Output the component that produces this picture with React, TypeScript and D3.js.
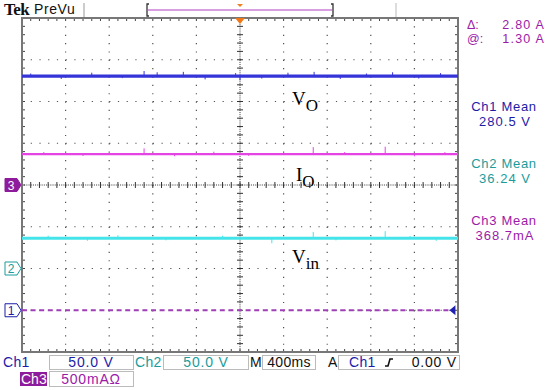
import React from "react";
import * as d3 from "d3";

// ---- data ----
const CHANNELS = ["Ch1", "Ch2", "Ch3"];
const CH_MEANS = [280.5, 36.24, 368.7];
const CH_SCALES = [50, 50, 500];
const CH_GROUND_DIV = [-3, -2, 0];
const CH_MEAN_LABELS = ["280.5 V", "36.24 V", "368.7mA"];
const CH_SCALE_LABELS = ["50.0 V", "50.0 V", "500mA"];
const TRACE_NAMES = ["V", "V", "I"];
const TRACE_SUBS = ["O", "in", "O"];
const CURSOR_DELTA = "2.80 A";
const CURSOR_AT = "1.30 A";
const TIMEBASE = "400ms";
const TRIG_LEVEL = "0.00 V";
const TRIG_LEVEL_DIV = -3;
// spikes: [time in divisions, deviation in divisions]
const VO_SPIKES: [number, number][] = [
  [0.2, 0.06], [0.9, -0.07], [1.6, 0.08], [2.3, -0.05], [3.1, 0.09], [3.7, 0.1],
  [4.2, -0.08], [4.9, 0.07], [5.5, -0.06], [6.1, 0.08], [6.7, 0.1], [7.3, -0.07],
  [7.9, 0.06], [8.5, 0.09], [9.1, -0.06], [9.6, 0.07], [2.8, 0.12], [5.0, -0.1],
];
const VIN_SPIKES: [number, number][] = [
  [0.6, 0.06], [1.5, -0.06], [2.2, 0.07], [3.3, -0.05], [4.6, 0.06], [5.73, -0.12],
  [6.68, 0.15], [7.2, -0.05], [8.33, 0.17], [8.9, 0.05], [9.5, -0.06],
];
const IO_SPIKES: [number, number][] = [
  [0.5, 0.05], [1.4, -0.04], [2.8, 0.14], [3.5, -0.05], [4.4, 0.06], [5.2, -0.04],
  [6.68, 0.17], [7.4, 0.05], [8.33, 0.18], [9.0, -0.05], [9.7, 0.05],
];
const SPIKES = [VO_SPIKES, VIN_SPIKES, IO_SPIKES];

const COLORS = ["#3434d8", "#44e4ea", "#e444e4"];
const TEXT_COLORS = ["#1c1ca8", "#1a9c9c", "#9c1aa8"];

const GL = 22, GR = 458, GT = 18, GB = 352;

export default function App() {
  const x = d3.scaleLinear().domain([0, 10]).range([GL, GR]);
  const y = d3.scaleLinear().domain([-4, 4]).range([GB, GT]);
  const levels = CH_MEANS.map((m, i) => CH_GROUND_DIV[i] + m / CH_SCALES[i]);

  const vLines = d3.range(1, 10);
  const hLines = d3.range(-3, 4);
  const minorX = d3.range(0, 10.001, 0.2);
  const minorY = d3.range(-4, 4.001, 0.2);

  const line = d3.line<[number, number]>().x((d) => x(d[0])).y((d) => y(d[1]));

  const sans = "'Liberation Sans', Arial, sans-serif";
  const serif = "'Liberation Serif', 'Times New Roman', serif";
  const labelOffsets = [-0.55, -0.45, -0.5];
  const labelX = [292, 292, 296];

  return (
    <svg width={550} height={390} style={{ position: "absolute", left: 0, top: 0, background: "#fff" }}>
      <rect x={0} y={0} width={550} height={390} fill="#fff" />
      {/* top bar */}
      <text x={4} y={15} fontFamily={serif} fontWeight="bold" fontSize={17} fill="#111" letterSpacing={-0.5}>Tek</text>
      <text x={34} y={14} fontFamily={sans} fontSize={14} fill="#111" letterSpacing={0.6}>PreVu</text>
      <line x1={84} x2={84} y1={3} y2={17} stroke="#999" />
      <line x1={396} x2={396} y1={3} y2={17} stroke="#bbb" />
      <path d="M149,4 L147,4 L147,16 L149,16" fill="none" stroke="#333" strokeWidth={1.3} />
      <path d="M331,4 L333,4 L333,16 L331,16" fill="none" stroke="#333" strokeWidth={1.3} />
      <line x1={148} x2={332} y1={10} y2={10} stroke="#b040c0" strokeWidth={1.2} />
      <path d="M237,4 L243,4 L240,7 Z" fill="#f08020" />

      {/* graticule */}
      {vLines.map((v) => (
        <line key={"v" + v} x1={x(v)} x2={x(v)} y1={GT} y2={GB} stroke="#333" strokeWidth={1.2}
          strokeDasharray={`1.2 ${(y(3.8) - y(4)) - 1.2}`} opacity={v === 5 ? 0 : 0.85} />
      ))}
      {hLines.map((h) => (
        <line key={"h" + h} x1={GL} x2={GR} y1={y(h)} y2={y(h)} stroke="#333" strokeWidth={1.2}
          strokeDasharray={`1.2 ${(x(0.2) - x(0)) - 1.2}`} opacity={h === 0 ? 0 : 0.85} />
      ))}
      {/* center cross with minor ticks */}
      {minorX.map((t, i) => (
        <g key={"mx" + i}>
          <line x1={x(t)} x2={x(t)} y1={y(0) - 3} y2={y(0) + 3} stroke="#333" />
          <line x1={x(t)} x2={x(t)} y1={GT} y2={GT + 3} stroke="#444" />
          <line x1={x(t)} x2={x(t)} y1={GB - 3} y2={GB} stroke="#444" />
        </g>
      ))}
      {minorY.map((t, i) => (
        <g key={"my" + i}>
          <line x1={x(5) - 3} x2={x(5) + 3} y1={y(t)} y2={y(t)} stroke="#333" />
          <line x1={GL} x2={GL + 3} y1={y(t)} y2={y(t)} stroke="#444" />
          <line x1={GR - 3} x2={GR} y1={y(t)} y2={y(t)} stroke="#444" />
        </g>
      ))}
      <line x1={GL} x2={GR} y1={y(0)} y2={y(0)} stroke="#333" strokeDasharray="1 1.18" />
      <line x1={x(5)} x2={x(5)} y1={GT} y2={GB} stroke="#333" strokeDasharray="1 1.09" />
      <rect x={GL} y={GT} width={GR - GL} height={GB - GT} fill="none" stroke="#777" strokeWidth={2} />

      {/* traces */}
      <line x1={GL} x2={x(9.85)} y1={y(TRIG_LEVEL_DIV)} y2={y(TRIG_LEVEL_DIV)} stroke="#a040b8" strokeWidth={2} strokeDasharray="5 3.6" />
      {levels.map((lv, i) => (
        <g key={"tr" + i}>
          <path d={line([[0, lv], [10, lv]]) || ""} stroke={COLORS[i]} strokeWidth={i === 0 ? 3.2 : i === 1 ? 3 : 2.2} fill="none" />
          {SPIKES[i].map((s, j) => (
            <path key={j} d={line([[s[0], lv], [s[0], lv + s[1]]]) || ""} stroke={COLORS[i]} strokeWidth={1} fill="none" />
          ))}
        </g>
      ))}

      {/* trace labels */}
      {levels.map((lv, i) => (
        <text key={"lb" + i} x={labelX[i]} y={y(lv + labelOffsets[i]) + 6} fontFamily={serif} fontSize={19} fill="#000">
          {TRACE_NAMES[i]}
          <tspan dy={6} fontSize={17}>{TRACE_SUBS[i]}</tspan>
        </text>
      ))}

      {/* trigger markers */}
      <path d={`M${x(5) - 5},${GT} L${x(5) + 5},${GT} L${x(5)},${GT + 6} Z`} fill="#f07818" />
      <path d={`M${x(9.85) + 4},${y(TRIG_LEVEL_DIV) - 5} L${x(9.85) + 4},${y(TRIG_LEVEL_DIV) + 5} L${x(9.85) - 2},${y(TRIG_LEVEL_DIV)} Z`} fill="#2020b0" />

      {/* channel ground markers */}
      {CH_GROUND_DIV.map((g, i) => {
        const yy = y(g);
        const filled = i === 2;
        return (
          <g key={"gm" + i}>
            <path d={`M5,${yy - 6.5} L17,${yy - 6.5} L21,${yy} L17,${yy + 6.5} L5,${yy + 6.5} Z`}
              fill={filled ? "#8e1a9c" : "#fff"} stroke={filled ? "#8e1a9c" : TEXT_COLORS[i]} strokeWidth={1} />
            <text x={11} y={yy + 4.5} textAnchor="middle" fontFamily={sans} fontSize={12} fill={filled ? "#fff" : TEXT_COLORS[i]}>{i + 1}</text>
          </g>
        );
      })}

      {/* right panel */}
      <g fontFamily={sans} fontSize={12.5} fill="#9c1aa8">
        <text x={467} y={29}>Δ:</text>
        <text x={545} y={29} textAnchor="end" letterSpacing={1.2}>{CURSOR_DELTA}</text>
        <text x={467} y={43}>@:</text>
        <text x={545} y={43} textAnchor="end" letterSpacing={1.2}>{CURSOR_AT}</text>
      </g>
      {CHANNELS.map((c, i) => (
        <g key={"mean" + i} fontFamily={sans} fontSize={13} fill={TEXT_COLORS[i]} textAnchor="middle">
          <text x={504} y={111 + i * 57} letterSpacing={0.7}>{c} Mean</text>
          <text x={505} y={126 + i * 57} letterSpacing={1}>{CH_MEAN_LABELS[i]}</text>
        </g>
      ))}

      {/* bottom readouts */}
      <g fontFamily={sans} fontSize={14}>
        <text x={3} y={367} fill={TEXT_COLORS[0]} letterSpacing={0.3}>{CHANNELS[0]}</text>
        <rect x={49.5} y={355.5} width={84} height={14} fill="none" stroke="#bbb" />
        <text x={91} y={367} textAnchor="middle" fill={TEXT_COLORS[0]} letterSpacing={0.8}>{CH_SCALE_LABELS[0]}</text>
        <text x={135} y={367} fill={TEXT_COLORS[1]} letterSpacing={0.3}>{CHANNELS[1]}</text>
        <rect x={163.5} y={355.5} width={85} height={14} fill="none" stroke="#bbb" />
        <text x={206} y={367} textAnchor="middle" fill={TEXT_COLORS[1]} letterSpacing={0.8}>{CH_SCALE_LABELS[1]}</text>
        <text x={250} y={367} fill="#111">M</text>
        <rect x={262.5} y={355.5} width={53} height={14} fill="none" stroke="#bbb" />
        <text x={289} y={367} textAnchor="middle" fill="#111" letterSpacing={0.3}>{TIMEBASE}</text>
        <text x={328} y={367} fill="#111">A</text>
        <rect x={338.5} y={355.5} width={121} height={14} fill="none" stroke="#bbb" />
        <text x={349} y={367} fill={TEXT_COLORS[0]} letterSpacing={0.3}>{CHANNELS[0]}</text>
        <path d="M385,366 L388,366 L390,359 L393,359" fill="none" stroke="#111" strokeWidth={1.6} />
        <text x={457} y={367} textAnchor="end" fill="#111" letterSpacing={0.8}>{TRIG_LEVEL}</text>

        <rect x={20} y={372} width={27} height={14} fill="#8e1a9c" />
        <text x={21} y={384} fill="#fff">{CHANNELS[2]}</text>
        <rect x={49.5} y={371.5} width={84} height={15} fill="none" stroke="#bbb" />
        <text x={91} y={384} textAnchor="middle" fill={TEXT_COLORS[2]} letterSpacing={0.8}>{CH_SCALE_LABELS[2]}Ω</text>
      </g>
    </svg>
  );
}
